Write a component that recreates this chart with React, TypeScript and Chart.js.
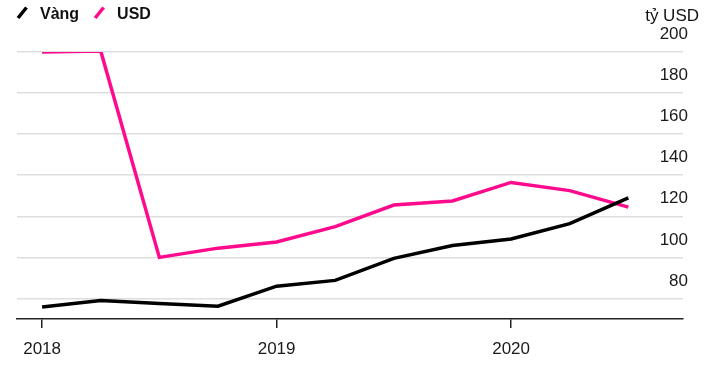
import React, { useEffect, useRef } from 'react';
import { Chart, registerables } from 'chart.js';

Chart.register(...registerables);

// ---- data ----
const quarters = [2018, 2018.25, 2018.5, 2018.75, 2019, 2019.25, 2019.5, 2019.75, 2020, 2020.25, 2020.5];
const goldValues = [75.8, 79, 77.6, 76.2, 86, 88.8, 99.5, 105.8, 109, 116.4, 129];
const usdValues = [200, 200.5, 100, 104.5, 107.5, 115, 125.5, 127.5, 136.5, 132.5, 124.5];
const seriesNames = ['Vàng', 'USD'];
const xTickYears = [2018, 2019, 2020];
const yTickValues = [80, 100, 120, 140, 160, 180, 200];
const unitLabel = 'tỷ USD';

const FONT = '"Liberation Sans", Arial, Helvetica, sans-serif';
const GOLD_COLOR = '#000000';
const USD_COLOR = '#ff0a8c';

const legendPlugin = {
  id: 'customLegend',
  afterDraw(chart: any) {
    const ctx = chart.ctx;
    ctx.save();
    ctx.font = `bold 16px ${FONT}`;
    ctx.textAlign = 'left';
    ctx.textBaseline = 'alphabetic';
    let x = 18;
    const baseY = 19;
    chart.data.datasets.forEach((ds: any) => {
      ctx.strokeStyle = ds.borderColor;
      ctx.lineWidth = 3.5;
      ctx.lineCap = 'butt';
      ctx.beginPath();
      ctx.moveTo(x, baseY - 1);
      ctx.lineTo(x + 8.5, baseY - 11.5);
      ctx.stroke();
      ctx.fillStyle = '#111111';
      ctx.fillText(ds.label, x + 22, baseY);
      x += 22 + ctx.measureText(ds.label).width + 16;
    });
    ctx.font = `17px ${FONT}`;
    ctx.textAlign = 'right';
    ctx.fillStyle = '#111111';
    ctx.fillText(unitLabel, chart.chartArea.right + 16, 21);
    ctx.restore();
  },
};

export default function App() {
  const canvasRef = useRef<HTMLCanvasElement | null>(null);

  useEffect(() => {
    const canvas = canvasRef.current;
    if (!canvas) return;
    const chart = new Chart(canvas, {
      type: 'line',
      data: {
        datasets: [
          {
            label: seriesNames[0],
            data: quarters.map((q, i) => ({ x: q, y: goldValues[i] })),
            borderColor: GOLD_COLOR,
            backgroundColor: GOLD_COLOR,
            borderWidth: 3.5,
            pointRadius: 0,
            tension: 0,
          },
          {
            label: seriesNames[1],
            data: quarters.map((q, i) => ({ x: q, y: usdValues[i] })),
            borderColor: USD_COLOR,
            backgroundColor: USD_COLOR,
            borderWidth: 3.5,
            pointRadius: 0,
            tension: 0,
          },
        ],
      },
      options: {
        animation: false,
        responsive: false,
        devicePixelRatio: 1,
        layout: { padding: { left: 17, right: 17, top: 52, bottom: -5.4 } },
        plugins: {
          legend: { display: false },
          tooltip: { enabled: false },
        },
        scales: {
          x: {
            type: 'linear',
            min: 2017.893,
            max: 2020.733,
            afterBuildTicks: (axis: any) => {
              axis.ticks = xTickYears.map((v) => ({ value: v }));
            },
            ticks: {
              font: { family: FONT, size: 17 },
              color: '#1a1a1a',
              padding: 11,
              maxRotation: 0,
              autoSkip: false,
              callback: (v: any) => String(v),
            },
            grid: {
              display: true,
              drawOnChartArea: false,
              drawTicks: true,
              tickLength: 9,
              color: '#222222',
              lineWidth: 1.5,
            },
            border: { display: true, color: '#222222', width: 1.5 },
          },
          y: {
            type: 'linear',
            position: 'right',
            min: 70,
            max: 200,
            afterBuildTicks: (axis: any) => {
              axis.ticks = yTickValues.map((v) => ({ value: v }));
            },
            ticks: {
              mirror: true,
              padding: 5,
              labelOffset: -17.5,
              font: { family: FONT, size: 17 },
              color: '#1a1a1a',
              callback: (v: any) => String(v),
            },
            grid: {
              color: '#dedede',
              lineWidth: 1.5,
              drawTicks: false,
            },
            border: { display: false },
          },
        },
      },
      plugins: [legendPlugin],
    } as any);
    return () => chart.destroy();
  }, []);

  return (
    <div style={{ position: 'absolute', left: 0, top: 0, width: 710, height: 365, background: '#ffffff' }}>
      <canvas ref={canvasRef} width={710} height={365} style={{ display: 'block' }} />
    </div>
  );
}
